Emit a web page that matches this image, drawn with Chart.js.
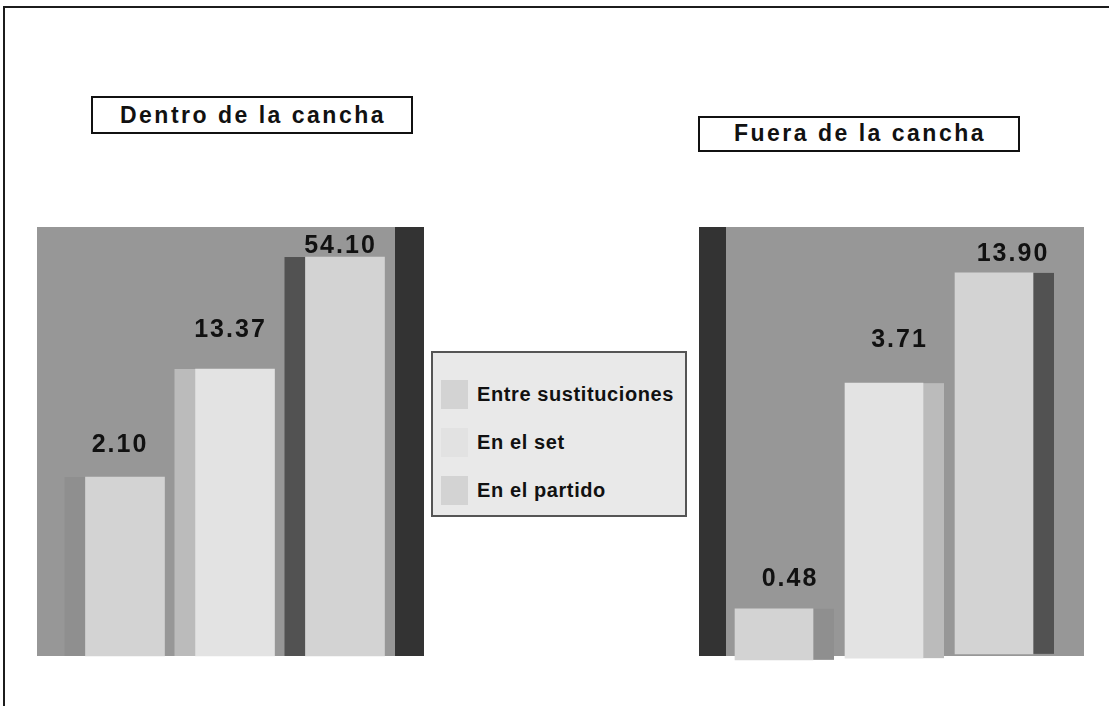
<!DOCTYPE html>
<html lang="es">
<head>
<meta charset="utf-8">
<title>Dentro y fuera de la cancha</title>
<script src="https://cdn.jsdelivr.net/npm/chart.js@4.4.0/dist/chart.umd.min.js"></script>
<style>
  html, body {
    margin: 0;
    padding: 0;
    background: #ffffff;
    overflow: hidden;
  }
  body {
    position: relative;
    width: 1112px;
    height: 706px;
    font-family: "Liberation Sans", Arial, sans-serif;
    color: #111111;
  }
  .marco {
    position: absolute;
    background: #1c1c1c;
  }
  .marco--arriba {
    left: 3px;
    top: 6px;
    width: 1106px;
    height: 2px;
  }
  .marco--izquierda {
    left: 3px;
    top: 6px;
    width: 2px;
    height: 700px;
  }
  .titulo {
    position: absolute;
    box-sizing: border-box;
    border: 2px solid #111111;
    background: #ffffff;
    font-weight: bold;
    font-size: 23px;
    letter-spacing: 2.5px;
    text-align: center;
    padding-left: 2px;
  }
  .titulo--dentro {
    left: 91px;
    top: 96px;
    width: 322px;
    height: 38px;
    line-height: 34px;
  }
  .titulo--fuera {
    left: 698px;
    top: 116px;
    width: 322px;
    height: 36px;
    line-height: 31px;
  }
  .panel {
    position: absolute;
  }
  .leyenda {
    position: absolute;
    left: 431px;
    top: 351px;
    width: 256px;
    height: 166px;
    box-sizing: border-box;
    border: 2px solid #555555;
    background: #e9e9e9;
    padding-top: 17px;
  }
  .leyenda__item {
    display: flex;
    align-items: center;
    height: 48px;
    padding-left: 8px;
  }
  .leyenda__color {
    width: 27px;
    height: 29px;
    margin-right: 9px;
    flex: none;
  }
  .leyenda__texto {
    font-weight: bold;
    font-size: 20px;
    letter-spacing: 0.6px;
    white-space: nowrap;
  }
</style>
</head>
<body>
  <div class="marco marco--arriba"></div>
  <div class="marco marco--izquierda"></div>

  <div class="titulo titulo--dentro">Dentro de la cancha</div>
  <div class="titulo titulo--fuera">Fuera de la cancha</div>

  <canvas class="panel" id="dentro" width="387" height="436" style="left:37px;top:227px;"></canvas>
  <canvas class="panel" id="fuera" width="385" height="436" style="left:699px;top:227px;"></canvas>

  <div class="leyenda" id="leyenda"></div>

<script>
const categorias = [`Entre sustituciones`, `En el set`, `En el partido`];

// numbers printed over the bars
const valoresDentro = [2.10, 13.37, 54.10];
const valoresFuera = [0.48, 3.71, 13.90];

// bar heights as drawn in the picture (% of plot height), they are not proportional to the values
const alturaDentro = [41.7, 66.9, 93.0];
const alturaFuera = [11.0, 63.6, 89.3];
const baseFuera = [-0.9, -0.5, 0.5];

const coloresFrente = [`#d3d3d3`, `#e3e3e3`, `#d3d3d3`];
const coloresLado = [`#8f8f8f`, `#bbbbbb`, `#525252`];
const COLOR_FONDO = `#979797`;
const COLOR_PARED = `#333333`;

// legend
document.querySelector(`#leyenda`).innerHTML = categorias.map((cat, i) => `
  <div class="leyenda__item">
    <div class="leyenda__color" style="background:${i === 1 ? `#e2e2e2` : coloresFrente[i]}"></div>
    <div class="leyenda__texto">${cat}</div>
  </div>`).join(``);

// fondo gris, pared oscura y caras laterales de las barras
const caras3d = {
  id: `caras3d`,
  beforeDatasetsDraw(chart, args, opts) {
    const {ctx, chartArea} = chart;
    ctx.save();
    ctx.fillStyle = COLOR_FONDO;
    ctx.fillRect(0, chartArea.top, chart.width, chartArea.bottom - chartArea.top);
    ctx.fillStyle = COLOR_PARED;
    ctx.fillRect(opts.paredX, chartArea.top, opts.paredAncho, chartArea.bottom - chartArea.top);

    chart.getDatasetMeta(0).data.forEach((bar, i) => {
      const {x, y, base, width} = bar.getProps([`x`, `y`, `base`, `width`], true);
      const left = opts.lado === `izquierda` ? x - width / 2 - opts.ladoAncho : x + width / 2;
      ctx.fillStyle = coloresLado[i];
      ctx.fillRect(left, y, opts.ladoAncho, base - y);
    });
    ctx.restore();
  },
  afterDatasetsDraw(chart, args, opts) {
    const {ctx} = chart;
    ctx.save();
    ctx.font = `bold 25px "Liberation Sans", Arial, sans-serif`;
    if (`letterSpacing` in ctx) {
      ctx.letterSpacing = `2px`;
    }
    ctx.fillStyle = `#111111`;
    ctx.textAlign = `center`;
    ctx.textBaseline = `alphabetic`;
    chart.getDatasetMeta(0).data.forEach((bar, i) => {
      const {x, y} = bar.getProps([`x`, `y`], true);
      const text = opts.valores[i].toFixed(2);
      ctx.fillText(text, x + opts.dx[i] + 1, y + opts.dy[i] + 9);
    });
    ctx.restore();
  }
};

const crearPanel = (canvas, data, valores, layout) => {
  return new Chart(canvas, {
    type: `bar`,
    plugins: [caras3d],
    data: {
      labels: categorias,
      datasets: [{
        data,
        backgroundColor: coloresFrente,
        hoverBackgroundColor: coloresFrente,
        borderWidth: 0,
        barThickness: layout.barra,
        clip: false,
      }]
    },
    options: {
      responsive: false,
      animation: false,
      events: [],
      layout: {
        padding: {left: layout.izq, right: layout.der, top: 0, bottom: 7}
      },
      plugins: {
        legend: {display: false},
        tooltip: {enabled: false},
        title: {display: false},
        caras3d: {
          lado: layout.lado,
          ladoAncho: 21,
          paredX: layout.paredX,
          paredAncho: layout.paredAncho,
          valores,
          dx: layout.dx,
          dy: layout.dy,
        },
      },
      scales: {
        x: {
          display: false,
          grid: {display: false},
        },
        y: {
          display: false,
          min: 0,
          max: 100,
          grid: {display: false},
        },
      }
    }
  });
};

crearPanel(document.querySelector(`#dentro`), alturaDentro, valoresDentro, {
  barra: 79,
  izq: 33,
  der: 24,
  lado: `izquierda`,
  paredX: 358,
  paredAncho: 29,
  dx: [-6, -5.5, -5.5],
  dy: [-34, -41, -13],
});

crearPanel(document.querySelector(`#fuera`), alturaFuera.map((h, i) => [baseFuera[i], h]), valoresFuera, {
  barra: 78,
  izq: 20,
  der: 35,
  lado: `derecha`,
  paredX: 0,
  paredAncho: 27,
  dx: [15, 14.5, 18],
  dy: [-32, -45, -21],
});
</script>
</body>
</html>
